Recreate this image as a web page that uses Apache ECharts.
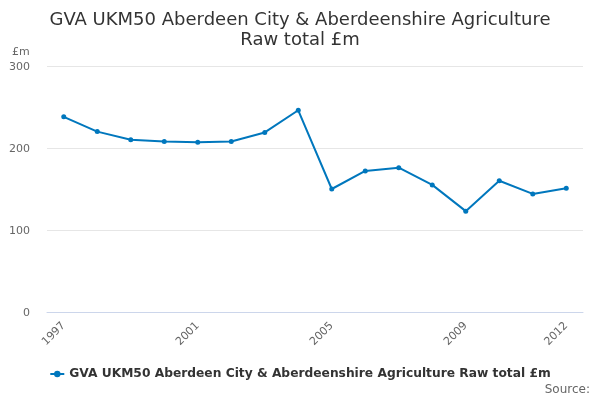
<!DOCTYPE html>
<html>
<head>
<meta charset="utf-8">
<script src="https://cdn.jsdelivr.net/npm/echarts@6/dist/echarts.min.js"></script>
<style>html,body{margin:0;padding:0;background:#fff}#c{width:600px;height:400px}</style>
</head>
<body>
<div id="c"></div>
<script>
const categories = ['1997','1998','1999','2000','2001','2002','2003','2004','2005','2006','2007','2008','2009','2010','2011','2012'];
const values = [238, 220, 210, 208, 207, 208, 219, 246, 150, 172, 176, 155, 123, 160, 144, 151];
const seriesName = 'GVA UKM50 Aberdeen City & Aberdeenshire Agriculture Raw total £m';
const shownLabels = [0, 4, 8, 12, 15];

const chart = echarts.init(document.getElementById('c'));
chart.setOption({
  animation: false,
  textStyle: { fontFamily: 'DejaVu Sans' },
  title: {
    text: 'GVA UKM50 Aberdeen City & Aberdeenshire Agriculture\nRaw total £m',
    left: 'center', top: 5,
    textStyle: { fontSize: 18, fontWeight: 'normal', color: '#333', lineHeight: 20, fontFamily: 'DejaVu Sans' }
  },
  grid: { left: 47, right: 17, top: 66, bottom: 88, containLabel: false },
  xAxis: {
    type: 'category', data: categories, boundaryGap: true,
    axisLine: { lineStyle: { color: '#ccd6eb' } },
    axisTick: { alignWithLabel: true, interval: 0, length: 10, lineStyle: { color: '#ccd6eb' } },
    axisLabel: {
      rotate: 45, color: '#666', fontSize: 11, margin: 12,
      interval: (i) => shownLabels.includes(i)
    }
  },
  yAxis: {
    type: 'value', min: 0, max: 300, interval: 100,
    axisLine: { show: false }, axisTick: { show: false },
    axisLabel: { color: '#666', fontSize: 11, margin: 17, verticalAlign: 'top', padding: [-4, 0, 0, 0] },
    splitLine: { lineStyle: { color: '#e6e6e6' } }
  },
  legend: {
    bottom: 15, left: 'center', itemWidth: 14, itemHeight: 8, itemGap: 8,
    textStyle: { fontSize: 12.25, fontWeight: 'bold', color: '#333' }
  },
  graphic: [
    { type: 'text', left: 12, top: 47, style: { text: '£m', fill: '#666', font: '11px DejaVu Sans' } },
    { type: 'text', right: 10, top: 384, style: { text: 'Source:', fill: '#666', font: '12px DejaVu Sans' } }
  ],
  series: [{
    name: seriesName, type: 'line', data: values,
    symbol: 'circle', symbolSize: 5, showSymbol: true,
    lineStyle: { width: 2, color: '#0077bd' },
    itemStyle: { color: '#0077bd' }
  }]
});
</script>
</body>
</html>
